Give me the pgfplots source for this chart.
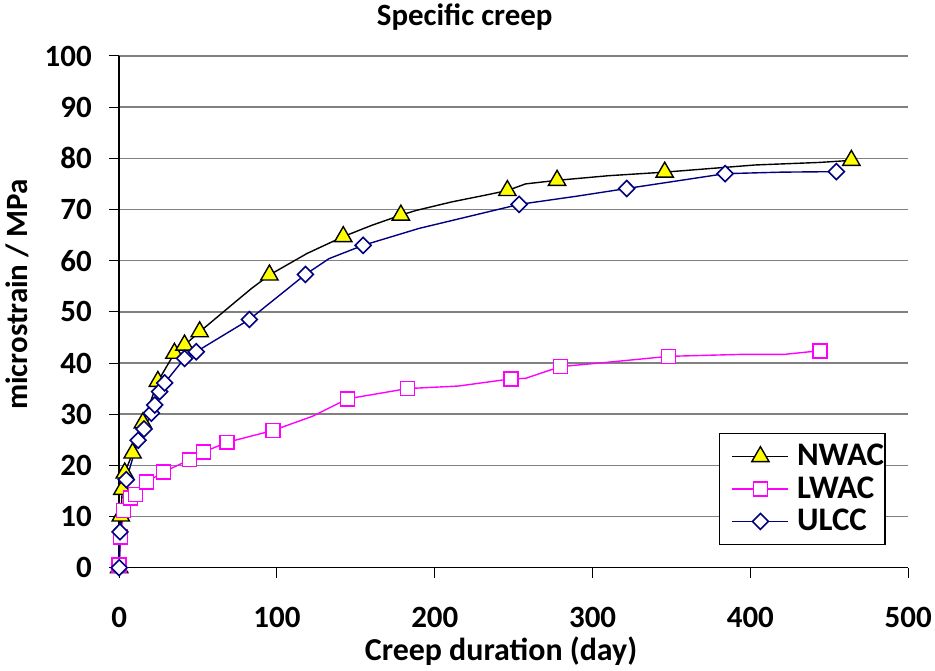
\documentclass[border=0pt]{standalone}
\usepackage{pgfplots}
\pgfplotsset{compat=1.18}
\usepackage{fontspec}
\setmainfont{Carlito}

\definecolor{lwac}{RGB}{255,0,255}
\definecolor{ulcc}{RGB}{0,0,128}
\definecolor{tri}{RGB}{255,255,0}

\begin{document}
\begin{tikzpicture}
  \begin{axis}[
      scale only axis,
      width=791pt, height=513pt,
      xmin=0, xmax=500, ymin=0, ymax=100,
      xtick={0,100,...,500},
      ytick={0,10,...,100},
      axis lines*=left,
      axis line style={black, line width=1.5pt},
      tick align=outside,
      major tick length=10pt,
      tick style={black, line width=1pt},
      ymajorgrids=true,
      grid style={gray, line width=1.6pt},
      ticklabel style={font=\bfseries\fontsize{31}{31}\selectfont},
      /pgf/number format/assume math mode=true,
      xticklabel style={anchor=base, yshift=-50pt},
      yticklabel style={anchor=east, xshift=-14pt},
      title={\bfseries\fontsize{31}{31}\selectfont Specific creep},
      title style={at={(axis description cs:0.438,1)}, anchor=base, yshift=25pt},
      xlabel={\bfseries\fontsize{32}{32}\selectfont Creep duration (day)},
      xlabel style={at={(axis description cs:0.484,0)}, anchor=base, yshift=-93pt},
      ylabel={\bfseries\fontsize{31}{31}\selectfont microstrain / MPa},
      ylabel style={at={(axis description cs:-0.129,0.534)}, anchor=center},
      clip=false,
      legend style={
        at={(0.7605,0.263)}, anchor=north west,
        draw=black, line width=1.2pt, fill=white,
        font=\bfseries\fontsize{33}{33}\selectfont,
        inner xsep=1pt, inner ysep=10pt,
        row sep=6.5pt,
        nodes={inner sep=0pt, text height=22pt, text depth=4pt},
        /tikz/every odd column/.append style={column sep=8pt},
        legend cell align=left
      },
      legend image code/.code={
        \path (0pt,0pt) (67pt,0pt);
        \draw[mark indices={2}] plot coordinates {(11pt,0pt) (39pt,0pt) (67pt,0pt)};
      },
    ]
    \addplot[black, line width=1.4pt, mark=triangle*, mark size=10pt,
      mark options={fill=tri, draw=black, line width=1.4pt},
      mark indices={1,2,3,4,5,6,7,8,9,10,13,15,17,21,23,25,28}]
      coordinates {
      (0,0) (1,10.1) (2,15.3) (3.5,18.5) (8.5,22.4) (15,28.3) (24.5,36.4)
      (35,41.9) (41.4,43.5) (51,46.1) (75,52.3) (84,54.6) (95.2,57.2)
      (119,61.4) (142,64.7) (160,66.9) (178.5,68.9) (188,69.8) (211,71.5)
      (232,72.8) (246,73.7) (257.5,75.0) (277.5,75.7) (310,76.6)
      (345.7,77.3) (403,78.7) (444,79.2) (464,79.6)
    };
    \addlegendentry{NWAC}
    \addplot[lwac, line width=1.4pt, mark=square*, mark size=7pt,
      mark options={fill=white, draw=lwac, line width=1.6pt},
      mark indices={1,2,3,4,5,6,7,8,9,10,11,13,14,16,18,20,23}]
      coordinates {
      (0,0.5) (0.8,6.0) (2.8,11.2) (7.1,13.6) (10.4,14.3) (17.2,16.7)
      (28.1,18.7) (44.6,21.1) (53.4,22.6) (68.4,24.5) (97.3,26.8)
      (122.6,29.6) (144.7,33.0) (182.7,35.0) (215,35.5) (248.4,36.9)
      (257.5,37.0) (279.7,39.3) (308,40.1) (348.2,41.3) (396,41.7)
      (422,41.7) (444,42.4)
    };
    \addlegendentry{LWAC}
    \addplot[ulcc, line width=1.4pt, mark=diamond*, mark size=8pt,
      mark options={fill=white, draw=ulcc, line width=1.6pt, xscale=1.33},
      mark indices={1,2,3,4,5,6,7,8,9,10,11,12,13,15,17,19,20,22}]
      coordinates {
      (0,0) (0.5,7.0) (4.5,17.2) (12,24.9) (15.7,27.1) (20.4,30.2)
      (22.5,31.8) (25.6,34.4) (28.8,36.1) (41.4,40.9) (48.8,42.2)
      (82.5,48.5) (118,57.3) (133,60.4) (154.6,63.0) (190,66.3)
      (253.5,71.0) (290,72.6) (321.6,74.1) (384,77.0) (420,77.3)
      (454.5,77.4)
    };
    \addlegendentry{ULCC}
    \path (axis description cs:0,0) ++(-119.5pt,-103pt)
          (axis description cs:1,1) ++(24pt,52pt);
  \end{axis}
\end{tikzpicture}
\end{document}
